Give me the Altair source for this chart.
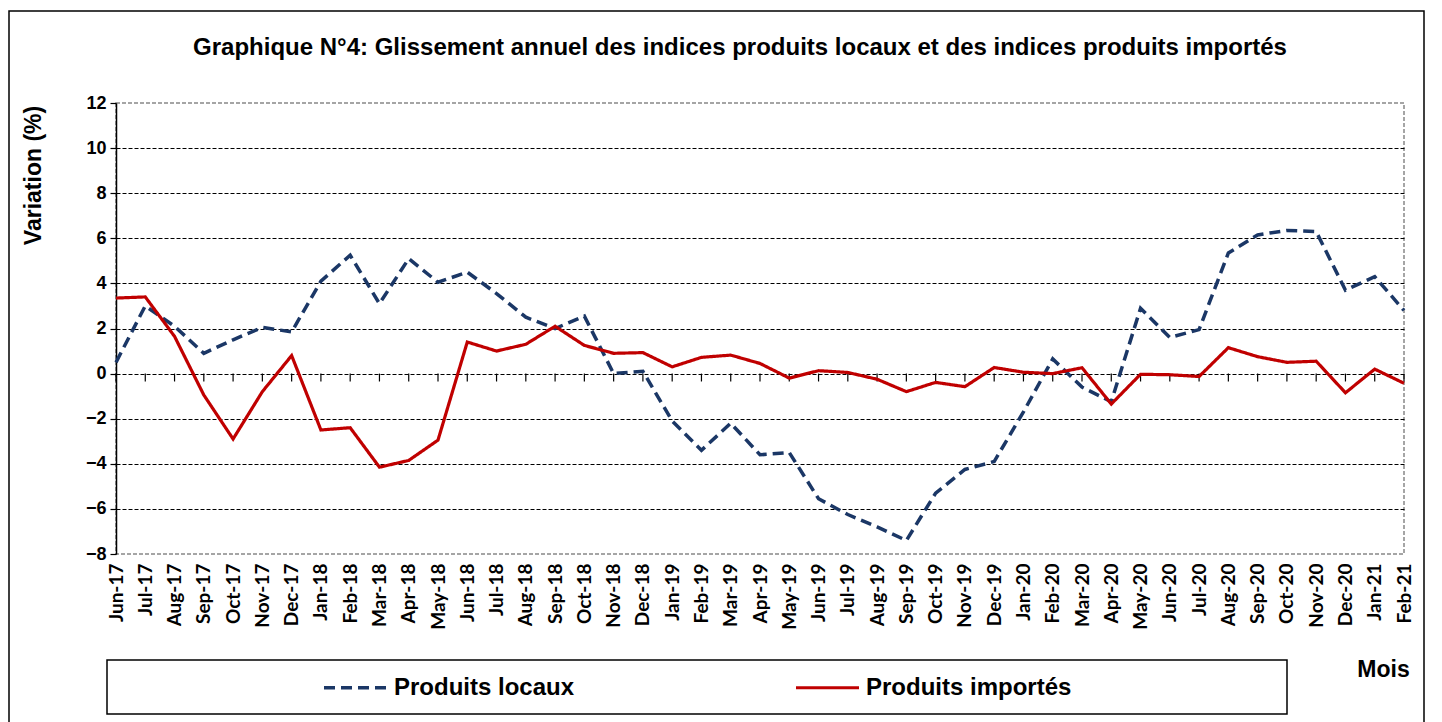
import altair as alt
import pandas as pd

months = ["Jun-17", "Jul-17", "Aug-17", "Sep-17", "Oct-17", "Nov-17", "Dec-17",
          "Jan-18", "Feb-18", "Mar-18", "Apr-18", "May-18", "Jun-18", "Jul-18",
          "Aug-18", "Sep-18", "Oct-18", "Nov-18", "Dec-18",
          "Jan-19", "Feb-19", "Mar-19", "Apr-19", "May-19", "Jun-19", "Jul-19",
          "Aug-19", "Sep-19", "Oct-19", "Nov-19", "Dec-19",
          "Jan-20", "Feb-20", "Mar-20", "Apr-20", "May-20", "Jun-20", "Jul-20",
          "Aug-20", "Sep-20", "Oct-20", "Nov-20", "Dec-20",
          "Jan-21", "Feb-21"]

locaux = [0.5, 3.0, 2.1, 0.9, 1.5, 2.05, 1.85, 4.1, 5.25, 3.1, 5.1, 4.05, 4.5, 3.55,
          2.5, 2.0, 2.55, 0.0, 0.1, -2.1, -3.4, -2.2, -3.6, -3.5, -5.55, -6.25,
          -6.8, -7.4, -5.3, -4.25, -3.9, -1.7, 0.65, -0.6, -1.25, 2.9, 1.6, 1.95,
          5.35, 6.15, 6.35, 6.3, 3.7, 4.3, 2.8]

importes = [3.35, 3.4, 1.65, -0.95, -2.9, -0.8, 0.8, -2.5, -2.4, -4.15, -3.85, -2.95,
            1.4, 1.0, 1.3, 2.1, 1.25, 0.9, 0.93, 0.3, 0.72, 0.82, 0.45, -0.2, 0.13,
            0.05, -0.25, -0.8, -0.39, -0.58, 0.27, 0.06, 0.0, 0.26, -1.35, -0.03,
            -0.05, -0.13, 1.15, 0.75, 0.5, 0.55, -0.85, 0.2, -0.43]

series_names = ["Produits locaux", "Produits importés"]
y_ticks = [-8, -6, -4, -2, 0, 2, 4, 6, 8, 10, 12]
title_text = "Graphique N°4: Glissement annuel des indices produits locaux et des indices produits importés"

rows = []
for m, v in zip(months, locaux):
    rows.append({"mois": m, "serie": series_names[0], "valeur": v})
for m, v in zip(months, importes):
    rows.append({"mois": m, "serie": series_names[1], "valeur": v})
df = pd.DataFrame(rows)
df_months = pd.DataFrame({"mois": months})

W, H = 1288, 451
FONT = "Liberation Sans"

x_enc = alt.X("mois:O", sort=months,
              scale=alt.Scale(type="point", padding=0),
              axis=alt.Axis(title="Mois", labelAngle=270, labelFont="Lato",
                            labelFontSize=19, labelFontWeight="bold",
                            labelColor="black", labelPadding=9,
                            ticks=False, domain=False, grid=False,
                            titleFont=FONT, titleFontSize=23, titleFontWeight="bold",
                            titleColor="black", titleX=1267, titleY=122,
                            titleAlign="center", titleBaseline="alphabetic"))

y_enc = alt.Y("valeur:Q",
              scale=alt.Scale(domain=[-8, 12], nice=False),
              axis=alt.Axis(title="Variation (%)", values=y_ticks, format="d",
                            labelFont=FONT, labelFontSize=18, labelFontWeight="bold",
                            labelColor="black", labelPadding=4,
                            tickSize=6, tickColor="black", tickWidth=1.2,
                            domainColor="black", domainWidth=1.5,
                            grid=True, gridColor="black", gridDash=[4, 2],
                            gridWidth=1,
                            gridOpacity=alt.condition("datum.value == 12 || datum.value == -8",
                                                      alt.value(0), alt.value(1)),
                            titleFont=FONT, titleFontSize=23, titleFontWeight="bold",
                            titleColor="black", titleAngle=270, titleX=-83, titleY=72,
                            titleAlign="center", titleBaseline="middle"))

leg = alt.Legend(orient="none", legendX=206, legendY=551, direction="horizontal",
                 title=None, labelFont=FONT, labelFontSize=24, labelFontWeight="bold",
                 labelColor="black", symbolType="stroke", symbolSize=3969,
                 symbolStrokeWidth=4, labelOffset=5, columnPadding=214,
                 labelLimit=500)

lines = alt.Chart(df).mark_line().encode(
    x=x_enc,
    y=y_enc,
    color=alt.Color("serie:N", sort=series_names,
                    scale=alt.Scale(domain=series_names, range=["#1B3766", "#C00000"]),
                    legend=leg),
    strokeDash=alt.StrokeDash("serie:N", sort=series_names,
                              scale=alt.Scale(domain=series_names, range=[[11, 6], [1, 0]]),
                              legend=leg),
    strokeWidth=alt.StrokeWidth("serie:N", sort=series_names,
                                scale=alt.Scale(domain=series_names, range=[3.5, 3.2]),
                                legend=leg),
    order=alt.Order("serie:N"),
)

ticks0 = alt.Chart(df_months).mark_rule(color="black", strokeWidth=1.2).encode(
    x=alt.X("mois:O", sort=months),
    y=alt.datum(0),
    y2=alt.datum(-0.35),
)

frame_data = alt.Data(values=[{"k": 1}])
legend_box = alt.Chart(frame_data).mark_rect(fillOpacity=0, stroke="black",
                                             strokeWidth=1.5).encode(
    x=alt.value(-9), x2=alt.value(1171), y=alt.value(557), y2=alt.value(611))
outer_box = alt.Chart(frame_data).mark_rect(fillOpacity=0, stroke="black",
                                            strokeWidth=1.5).encode(
    x=alt.value(-107), x2=alt.value(1308), y=alt.value(-92), y2=alt.value(640))
title_mark = alt.Chart(frame_data).mark_text(
    font=FONT, fontSize=24, fontWeight="bold", color="black",
    align="center", baseline="alphabetic").encode(
    x=alt.value(624), y=alt.value(-48), text=alt.value(title_text))

chart = alt.layer(ticks0, lines, legend_box, outer_box, title_mark).properties(
    width=W, height=H,
    autosize=alt.AutoSizeParams(type="none"),
    padding={"left": 108, "top": 95, "right": 30, "bottom": 168},
).configure_view(stroke="#888888", strokeDash=[4, 2], strokeWidth=1.5)

chart.save("out.html", embed_options={"renderer": "svg", "actions": False})
